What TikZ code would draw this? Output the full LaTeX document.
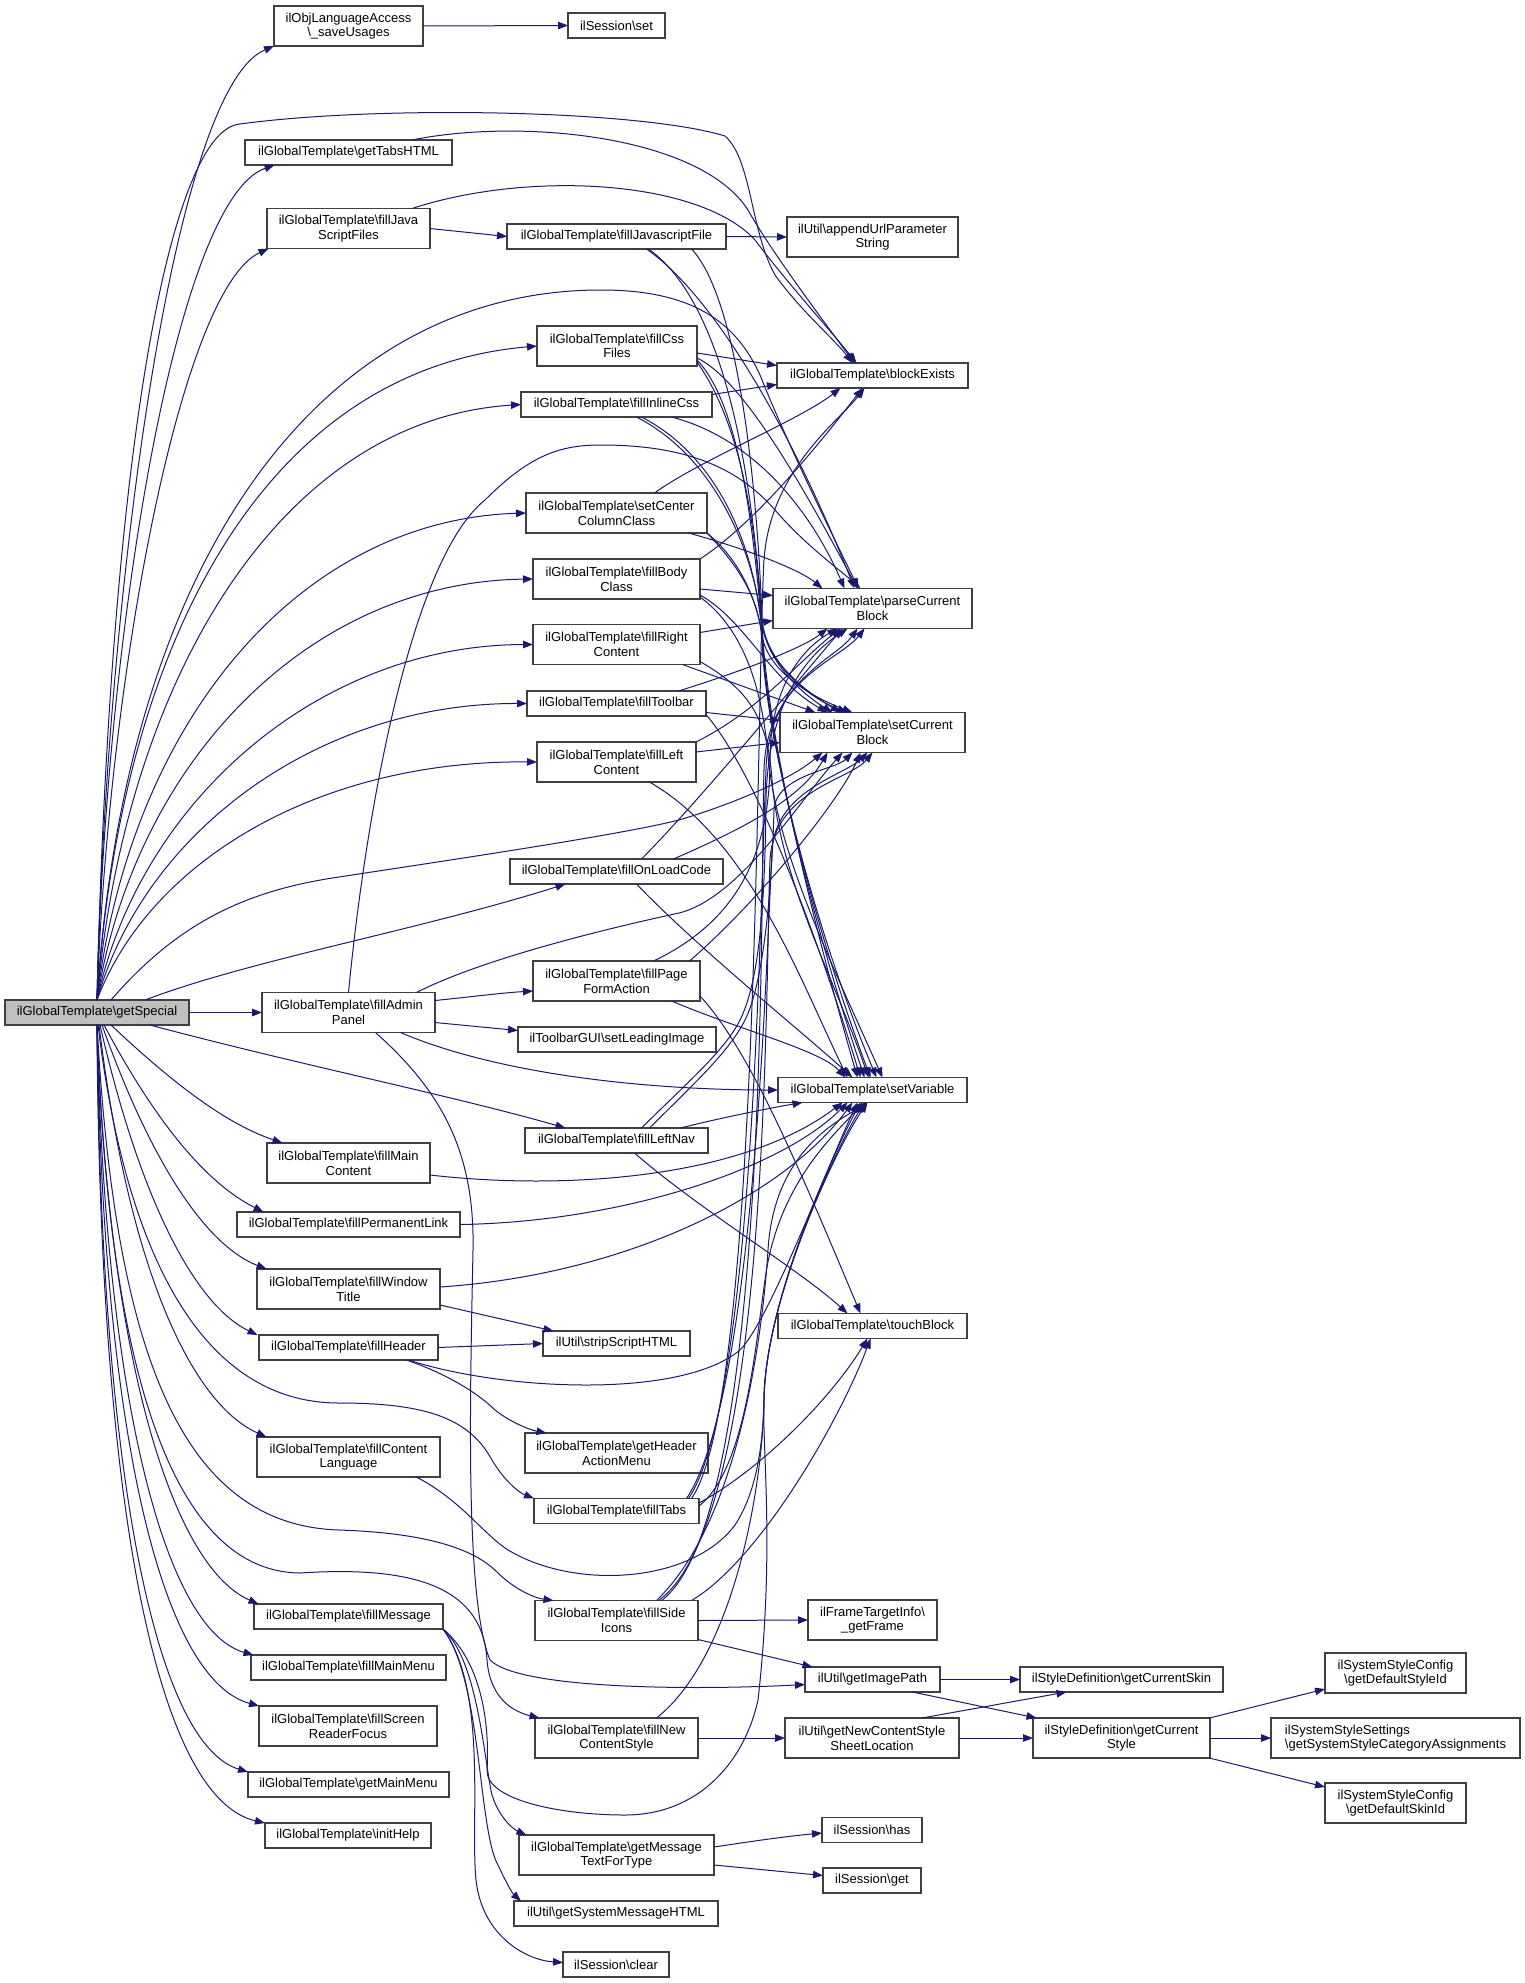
\documentclass[tikz,border=0pt]{standalone}
\usepackage{fontspec}
\setmainfont{Liberation Sans}
\usetikzlibrary{arrows.meta}
\definecolor{edgec}{HTML}{191970}
\definecolor{boxc}{HTML}{404040}
\definecolor{gsfill}{HTML}{BFBFBF}
\newcommand{\bsl}{\textbackslash}
\newcommand{\fsz}{\fontsize{13pt}{14.7pt}\selectfont}
\begin{document}
\begin{tikzpicture}[x=1pt,y=-1pt,
  box/.style={draw=boxc, line width=1.1pt, fill=white, inner sep=0pt, outer sep=0pt, align=center, font=\fsz},
  call/.style={draw=edgec, line width=1pt, -{Triangle[length=10pt,width=7.5pt]}}]
\fill[white] (0,0) rectangle (1525,1983);
\useasboundingbox (0,0) rectangle (1525,1983);
% nodes
\node[box,minimum width=184pt,minimum height=25pt,fill=gsfill] (GS) at (97,1012.5) {ilGlobalTemplate\bsl{}getSpecial};
\node[box,minimum width=149pt,minimum height=40pt] (SU) at (348.5,26) {ilObjLanguageAccess\\\bsl\_saveUsages};
\node[box,minimum width=97pt,minimum height=25pt] (SS) at (616.5,25.5) {ilSession\bsl{}set};
\node[box,minimum width=207pt,minimum height=25pt] (TH) at (348.5,152.5) {ilGlobalTemplate\bsl{}getTabsHTML};
\node[box,minimum width=163pt,minimum height=40pt] (JSF) at (348.5,228.5) {ilGlobalTemplate\bsl{}fillJava\\ScriptFiles};
\node[box,minimum width=219pt,minimum height=25pt] (FJF) at (616.5,236.5) {ilGlobalTemplate\bsl{}fillJavascriptFile};
\node[box,minimum width=171pt,minimum height=40pt] (AUP) at (872.5,237) {ilUtil\bsl{}appendUrlParameter\\String};
\node[box,minimum width=160pt,minimum height=40pt] (CSS) at (617,346) {ilGlobalTemplate\bsl{}fillCss\\Files};
\node[box,minimum width=191pt,minimum height=25pt] (BE) at (872.5,375.5) {ilGlobalTemplate\bsl{}blockExists};
\node[box,minimum width=191pt,minimum height=25pt] (ICSS) at (616.5,404.5) {ilGlobalTemplate\bsl{}fillInlineCss};
\node[box,minimum width=181pt,minimum height=40pt] (SCC) at (616.5,513) {ilGlobalTemplate\bsl{}setCenter\\ColumnClass};
\node[box,minimum width=167pt,minimum height=40pt] (FBC) at (616.5,579) {ilGlobalTemplate\bsl{}fillBody\\Class};
\node[box,minimum width=199pt,minimum height=40pt] (PCB) at (872.5,608.5) {ilGlobalTemplate\bsl{}parseCurrent\\Block};
\node[box,minimum width=167pt,minimum height=40pt] (FRC) at (616.5,644.5) {ilGlobalTemplate\bsl{}fillRight\\Content};
\node[box,minimum width=179pt,minimum height=25pt] (FTB) at (616.5,703.5) {ilGlobalTemplate\bsl{}fillToolbar};
\node[box,minimum width=185pt,minimum height=40pt] (SCB) at (872.5,732.5) {ilGlobalTemplate\bsl{}setCurrent\\Block};
\node[box,minimum width=159pt,minimum height=40pt] (FLC) at (616.5,762) {ilGlobalTemplate\bsl{}fillLeft\\Content};
\node[box,minimum width=213pt,minimum height=25pt] (FOL) at (616.5,871.5) {ilGlobalTemplate\bsl{}fillOnLoadCode};
\node[box,minimum width=167pt,minimum height=40pt] (FPF) at (616.5,981) {ilGlobalTemplate\bsl{}fillPage\\FormAction};
\node[box,minimum width=173pt,minimum height=40pt] (FAP) at (348.5,1012.5) {ilGlobalTemplate\bsl{}fillAdmin\\Panel};
\node[box,minimum width=198pt,minimum height=25pt] (SLI) at (617,1039.5) {ilToolbarGUI\bsl{}setLeadingImage};
\node[box,minimum width=189pt,minimum height=25pt] (SV) at (872.5,1090) {ilGlobalTemplate\bsl{}setVariable};
\node[box,minimum width=183pt,minimum height=25pt] (FLN) at (616.5,1140.5) {ilGlobalTemplate\bsl{}fillLeftNav};
\node[box,minimum width=163pt,minimum height=40pt] (FMC) at (348.5,1163) {ilGlobalTemplate\bsl{}fillMain\\Content};
\node[box,minimum width=223pt,minimum height=25pt] (FPL) at (348.5,1224.5) {ilGlobalTemplate\bsl{}fillPermanentLink};
\node[box,minimum width=183pt,minimum height=40pt] (FWT) at (348.5,1289) {ilGlobalTemplate\bsl{}fillWindow\\Title};
\node[box,minimum width=189pt,minimum height=25pt] (TB) at (872.5,1326) {ilGlobalTemplate\bsl{}touchBlock};
\node[box,minimum width=147pt,minimum height=25pt] (SSH) at (616.5,1343.5) {ilUtil\bsl{}stripScriptHTML};
\node[box,minimum width=179pt,minimum height=25pt] (FH) at (348.5,1347.5) {ilGlobalTemplate\bsl{}fillHeader};
\node[box,minimum width=183pt,minimum height=40pt] (GHA) at (616.5,1453) {ilGlobalTemplate\bsl{}getHeader\\ActionMenu};
\node[box,minimum width=183pt,minimum height=40pt] (FCL) at (348.5,1457) {ilGlobalTemplate\bsl{}fillContent\\Language};
\node[box,minimum width=165pt,minimum height=25pt] (FT) at (616.5,1511) {ilGlobalTemplate\bsl{}fillTabs};
\node[box,minimum width=163pt,minimum height=40pt] (FSI) at (616.5,1620.5) {ilGlobalTemplate\bsl{}fillSide\\Icons};
\node[box,minimum width=129pt,minimum height=40pt] (FTI) at (872.5,1620) {ilFrameTargetInfo\bsl\\\_getFrame};
\node[box,minimum width=189pt,minimum height=25pt] (FM) at (348.5,1616.5) {ilGlobalTemplate\bsl{}fillMessage};
\node[box,minimum width=195pt,minimum height=25pt] (FMM) at (348.5,1667.5) {ilGlobalTemplate\bsl{}fillMainMenu};
\node[box,minimum width=135pt,minimum height=25pt] (GIP) at (872.5,1679.5) {ilUtil\bsl{}getImagePath};
\node[box,minimum width=203pt,minimum height=25pt] (GCS) at (1121.5,1679.5) {ilStyleDefinition\bsl{}getCurrentSkin};
\node[box,minimum width=141pt,minimum height=40pt] (DSI) at (1395.5,1673) {ilSystemStyleConfig\\\bsl{}getDefaultStyleId};
\node[box,minimum width=178pt,minimum height=40pt] (FSR) at (348,1726) {ilGlobalTemplate\bsl{}fillScreen\\ReaderFocus};
\node[box,minimum width=163pt,minimum height=40pt] (FNC) at (616.5,1738) {ilGlobalTemplate\bsl{}fillNew\\ContentStyle};
\node[box,minimum width=174pt,minimum height=40pt] (GNC) at (872,1738) {ilUtil\bsl{}getNewContentStyle\\SheetLocation};
\node[box,minimum width=177pt,minimum height=40pt] (GCST) at (1121.5,1738) {ilStyleDefinition\bsl{}getCurrent\\Style};
\node[box,minimum width=249pt,minimum height=40pt,align=left] (SSC) at (1395.5,1738) {ilSystemStyleSettings\\\bsl{}getSystemStyleCategoryAssignments};
\node[box,minimum width=201pt,minimum height=25pt] (GMM) at (348.5,1784.5) {ilGlobalTemplate\bsl{}getMainMenu};
\node[box,minimum width=141pt,minimum height=40pt] (DSK) at (1395.5,1803) {ilSystemStyleConfig\\\bsl{}getDefaultSkinId};
\node[box,minimum width=100pt,minimum height=25pt] (SH) at (872,1830) {ilSession\bsl{}has};
\node[box,minimum width=166pt,minimum height=25pt] (IH) at (348,1835.5) {ilGlobalTemplate\bsl{}initHelp};
\node[box,minimum width=195pt,minimum height=40pt] (GMT) at (616.5,1855) {ilGlobalTemplate\bsl{}getMessage\\TextForType};
\node[box,minimum width=98pt,minimum height=25pt] (SG) at (872,1880.5) {ilSession\bsl{}get};
\node[box,minimum width=204pt,minimum height=25pt] (GSM) at (616,1913.5) {ilUtil\bsl{}getSystemMessageHTML};
\node[box,minimum width=106pt,minimum height=25pt] (SC) at (616,1964.5) {ilSession\bsl{}clear};
% getSpecial fan upward
\draw[call] (GS.north) .. controls (105,620) and (170,90) .. (SU.south west);
\draw[call] (GS.north) .. controls (105,640) and (175,200) .. ([xshift=-74pt]TH.south);
\draw[call] (GS.north) .. controls (108,680) and (180,290) .. ([xshift=-80pt]JSF.south);
\draw[call] (GS.north) .. controls (110,450) and (170,130) .. (240,124) .. controls (380,105) and (640,110) .. (725,136) .. controls (752,160) and (750,230) .. (775,275) .. controls (800,310) and (835,340) .. ([xshift=-20pt]BE.north);
\draw[call] (GS.north) .. controls (125,560) and (320,290) .. (601,290) .. controls (690,290) and (735,320) .. (760,375) .. controls (790,450) and (835,540) .. ([xshift=-14pt]PCB.north);
\draw[call] (GS.north) .. controls (120,650) and (260,370) .. (CSS.west);
\draw[call] (GS.north) .. controls (125,680) and (280,420) .. (ICSS.west);
\draw[call] (GS.north) .. controls (130,720) and (300,520) .. (SCC.west);
\draw[call] (GS.north) .. controls (135,760) and (310,582) .. (FBC.west);
\draw[call] (GS.north) .. controls (140,800) and (320,645) .. (FRC.west);
\draw[call] (GS.north) .. controls (145,830) and (320,703) .. (FTB.west);
\draw[call] (GS.north) .. controls (150,860) and (320,760) .. (FLC.west);
\draw[call] ([xshift=14pt]GS.north) .. controls (180,920) and (250,890) .. (339,877) .. controls (450,860) and (620,835) .. (679,820) .. controls (730,805) and (790,780) .. ([xshift=-50pt]SCB.south);
\draw[call] ([xshift=48pt]GS.north) .. controls (250,960) and (420,930) .. ([xshift=-51pt]FOL.south);
\draw[call] (GS.east) -- (FAP.west);
% getSpecial fan downward
\draw[call] ([xshift=53pt]GS.south) .. controls (300,1065) and (450,1095) .. ([xshift=-51pt]FLN.north);
\draw[call] ([xshift=14pt]GS.south) .. controls (180,1090) and (230,1125) .. ([xshift=-66pt]FMC.north);
\draw[call] ([xshift=7pt]GS.south) .. controls (160,1130) and (210,1185) .. ([xshift=-85pt]FPL.north);
\draw[call] ([xshift=5pt]GS.south) .. controls (150,1160) and (205,1245) .. ([xshift=-82pt]FWT.north);
\draw[call] ([xshift=3pt]GS.south) .. controls (140,1200) and (195,1305) .. ([xshift=-91pt]FH.north);
\draw[call] ([xshift=2pt]GS.south) .. controls (130,1280) and (195,1405) .. ([xshift=-82pt]FCL.north);
\draw[call] ([xshift=1pt]GS.south) .. controls (125,1250) and (200,1403) .. (339,1403) .. controls (430,1403) and (470,1420) .. (492,1460) .. controls (505,1482) and (520,1493) .. (FT.north west);
\draw[call] (GS.south) .. controls (115,1350) and (180,1525) .. (339,1530) .. controls (430,1533) and (475,1550) .. (497,1572) .. controls (515,1590) and (535,1598) .. ([xshift=-63pt]FSI.north);
\draw[call] (GS.south) .. controls (110,1420) and (190,1572) .. (300,1573) .. controls (420,1565) and (483,1590) .. (487,1660) .. controls (490,1700) and (515,1712) .. ([xshift=-77pt]FNC.north);
\draw[call] (GS.south) .. controls (108,1350) and (170,1565) .. ([xshift=-90pt]FM.north);
\draw[call] (GS.south) .. controls (105,1400) and (165,1630) .. ([xshift=-95pt]FMM.north);
\draw[call] (GS.south) .. controls (103,1450) and (165,1680) .. (FSR.north west);
\draw[call] (GS.south) .. controls (101,1500) and (160,1745) .. (GMM.north west);
\draw[call] (GS.south) .. controls (100,1550) and (165,1800) .. (IH.north west);
% top part
\draw[call] (SU.east) -- (SS.west);
\draw[call] ([xshift=63.5pt]TH.north) .. controls (520,118) and (700,135) .. (748,210) .. controls (770,250) and (830,330) .. ([xshift=-18pt]BE.north);
\draw[call] ([xshift=63.5pt]JSF.north) .. controls (530,170) and (700,180) .. (755,240) .. controls (785,280) and (830,330) .. ([xshift=-16pt]BE.north);
\draw[call] (JSF.east) -- (FJF.west);
\draw[call] (FJF.east) -- (AUP.west);
\draw[call] ([xshift=30pt]FJF.south) .. controls (720,300) and (800,450) .. ([xshift=-18pt]PCB.north);
\draw[call] ([xshift=32pt]FJF.south) .. controls (735,310) and (755,520) .. (762,620) .. controls (768,670) and (815,700) .. ([xshift=-25pt]SCB.north);
\draw[call] ([xshift=75pt]FJF.south) .. controls (740,300) and (758,500) .. (762,620) .. controls (765,730) and (815,930) .. ([xshift=-15pt]SV.north);
% fillCssFiles
\draw[call] ([yshift=-7pt]CSS.east) -- ([yshift=10pt]BE.west);
\draw[call] ([yshift=-12pt]CSS.east) .. controls (745,380) and (810,500) .. ([xshift=-15pt]PCB.north);
\draw[call] ([yshift=-14pt]CSS.east) .. controls (745,410) and (755,560) .. (762,625) .. controls (770,670) and (820,700) .. ([xshift=-32pt]SCB.north);
\draw[call] ([yshift=-16pt]CSS.east) .. controls (745,430) and (757,540) .. (762,630) .. controls (765,735) and (815,930) .. ([xshift=-8pt]SV.north);
% fillInlineCss
\draw[call] ([yshift=10pt]ICSS.east) -- ([yshift=-9pt]BE.west);
\draw[call] ([xshift=55pt]ICSS.south) .. controls (760,440) and (815,520) .. ([xshift=-28pt]PCB.north);
\draw[call] ([xshift=20pt]ICSS.south) .. controls (720,460) and (755,560) .. (762,625) .. controls (770,670) and (812,700) .. ([xshift=-40pt]SCB.north);
\draw[call] ([xshift=25pt]ICSS.south) .. controls (725,460) and (757,560) .. (762,635) .. controls (765,735) and (815,930) .. ([xshift=-2pt]SV.north);
% setCenterColumnClass
\draw[call] ([xshift=38pt]SCC.north) .. controls (700,460) and (800,420) .. ([xshift=-32pt]BE.south);
\draw[call] ([xshift=72pt]SCC.south) .. controls (750,550) and (800,570) .. ([xshift=-50pt]PCB.north);
\draw[call] (SCC.south east) .. controls (740,560) and (757,600) .. (762,635) .. controls (768,675) and (820,700) .. ([xshift=-20pt]SCB.north);
\draw[call] (SCC.south east) .. controls (742,570) and (759,600) .. (762,640) .. controls (765,738) and (815,930) .. ([xshift=4pt]SV.north);
% fillBodyClass
\draw[call] (FBC.north east) .. controls (760,520) and (830,430) .. ([xshift=-10pt]BE.south);
\draw[call] ([yshift=-10pt]FBC.east) -- ([yshift=13pt]PCB.west);
\draw[call] ([yshift=-16pt]FBC.east) .. controls (745,620) and (770,680) .. ([xshift=-45pt]SCB.north);
\draw[call] ([yshift=-18pt]FBC.east) .. controls (745,630) and (762,690) .. (768,755) .. controls (776,850) and (830,960) .. ([xshift=10pt]SV.north);
% fillRightContent
\draw[call] ([yshift=12pt]FRC.east) -- ([yshift=-12pt]PCB.west);
\draw[call] ([xshift=66pt]FRC.south) -- ([xshift=-57pt]SCB.north);
\draw[call] ([yshift=-17pt]FRC.east) .. controls (750,690) and (768,720) .. (772,780) .. controls (780,880) and (835,980) .. ([xshift=-4pt]SV.north);
% fillToolbar
\draw[call] ([xshift=62pt]FTB.north) .. controls (730,675) and (800,650) .. ([xshift=-45pt]PCB.south);
\draw[call] ([yshift=-9pt]FTB.east) -- ([yshift=12pt]SCB.west);
\draw[call] ([yshift=-11pt]FTB.east) .. controls (745,760) and (800,880) .. ([xshift=-12pt]SV.north);
% fillLeftContent
\draw[call] (FLC.north east) .. controls (760,710) and (800,660) .. ([xshift=-32pt]PCB.south);
\draw[call] ([yshift=10pt]FLC.east) -- ([yshift=-10pt]SCB.west);
\draw[call] ([xshift=33pt]FLC.south) .. controls (750,840) and (800,980) .. ([xshift=-25pt]SV.north);
% fillOnLoadCode
\draw[call] ([xshift=25pt]FOL.north) .. controls (700,800) and (790,690) .. ([xshift=-30pt]PCB.south);
\draw[call] ([xshift=57pt]FOL.north) .. controls (740,830) and (800,800) .. ([xshift=-45pt]SCB.south);
\draw[call] ([xshift=20pt]FOL.south) .. controls (700,950) and (800,1030) .. ([xshift=-20pt]SV.north);
% fillPageFormAction
\draw[call] ([xshift=37pt]FPF.north) .. controls (740,920) and (770,850) .. (770,760) .. controls (770,690) and (800,650) .. ([xshift=-35pt]PCB.south);
\draw[call] ([xshift=73pt]FPF.north) .. controls (760,900) and (840,800) .. ([xshift=-12pt]SCB.south);
\draw[call] ([xshift=55pt]FPF.south) .. controls (740,1030) and (820,1050) .. ([xshift=-27pt]SV.north);
\draw[call] ([yshift=-15pt]FPF.east) .. controls (750,1050) and (800,1170) .. ([xshift=-12pt]TB.north);
% fillAdminPanel
\draw[call] ([yshift=12pt]FAP.east) .. controls (470,997) and (500,993) .. ([yshift=-10pt]FPF.west);
\draw[call] ([yshift=-10pt]FAP.east) -- ([yshift=9pt]SLI.west);
\draw[call] ([xshift=52pt]FAP.south) .. controls (500,1075) and (650,1090) .. (SV.west);
\draw[call] ([xshift=27pt]FAP.south) .. controls (440,1090) and (475,1150) .. (473,1250) .. controls (470,1400) and (465,1600) .. (490,1660) .. controls (520,1690) and (700,1690) .. ([yshift=-5pt]GIP.west);
\draw[call] (FAP.north) .. controls (365,820) and (410,560) .. (485,500) .. controls (530,455) and (560,445) .. (601,445) .. controls (690,445) and (740,470) .. (775,510) .. controls (805,545) and (840,570) .. ([xshift=-12pt]PCB.north);
\draw[call] ([xshift=68pt]FAP.north) .. controls (480,960) and (600,930) .. (679,913) .. controls (740,898) and (800,800) .. ([xshift=-30pt]SCB.south);
% fillLeftNav
\draw[call] ([xshift=64pt]FLN.north) .. controls (720,1118) and (770,1108) .. ([xshift=-70pt]SV.south);
\draw[call] ([xshift=18pt]FLN.south) .. controls (700,1210) and (800,1270) .. ([xshift=-25pt]TB.north);
\draw[call] ([xshift=25pt]FLN.north) .. controls (690,1080) and (725,1050) .. (740,1020) .. controls (760,980) and (765,900) .. (766,800) .. controls (768,710) and (800,660) .. ([xshift=-25pt]PCB.south);
\draw[call] ([xshift=33pt]FLN.north) .. controls (698,1080) and (730,1050) .. (745,1020) .. controls (765,980) and (772,880) .. (774,810) .. controls (776,775) and (835,770) .. ([xshift=-20pt]SCB.south);
% fillTabs
\draw[call] ([yshift=8pt]FT.east) .. controls (760,1470) and (830,1400) .. ([xshift=-5pt]TB.south);
\draw[call] ([yshift=5pt]FT.east) .. controls (745,1470) and (755,1350) .. (765,1280) .. controls (778,1180) and (840,1130) .. ([xshift=-10pt]SV.south);
\draw[call] ([xshift=75pt]FT.north) .. controls (760,1400) and (756,700) .. (764,560) .. controls (770,470) and (840,420) .. ([xshift=-8pt]BE.south);
\draw[call] ([xshift=72pt]FT.north) .. controls (755,1400) and (760,900) .. (766,770) .. controls (768,680) and (835,660) .. ([xshift=-15pt]PCB.south);
\draw[call] ([xshift=70pt]FT.north) .. controls (752,1400) and (765,1000) .. (772,850) .. controls (776,790) and (845,775) .. ([xshift=-5pt]SCB.south);
% fillSideIcons
\draw[call] (FSI.east) -- (FTI.west);
\draw[call] ([yshift=-19pt]FSI.east) -- ([xshift=-60pt]GIP.north);
\draw[call] ([xshift=75pt]FSI.north) .. controls (760,1560) and (840,1420) .. ([xshift=-2pt]TB.south);
\draw[call] ([xshift=40pt]FSI.north) .. controls (740,1520) and (763,1330) .. (768,1250) .. controls (774,1150) and (840,1120) .. ([xshift=-5pt]SV.south);
\draw[call] ([xshift=42pt]FSI.north) .. controls (770,1520) and (765,1000) .. (770,860) .. controls (774,790) and (850,780) .. (SCB.south);
\draw[call] ([xshift=45pt]FSI.north) .. controls (770,1520) and (760,900) .. (764,770) .. controls (766,680) and (840,660) .. ([xshift=-8pt]PCB.south);
% left column callers of setVariable etc.
\draw[call] ([yshift=-12pt]FMC.east) .. controls (560,1190) and (740,1180) .. ([xshift=-30pt]SV.south);
\draw[call] (FPL.east) .. controls (620,1222) and (780,1170) .. ([xshift=-25pt]SV.south);
\draw[call] ([yshift=2pt]FWT.east) .. controls (620,1275) and (780,1200) .. ([xshift=-20pt]SV.south);
\draw[call] ([yshift=-16pt]FWT.east) -- ([xshift=-63pt]SSH.north);
\draw[call] (FH.east) -- (SSH.west);
\draw[call] ([xshift=58pt]FH.south) .. controls (450,1375) and (480,1395) .. (495,1410) .. controls (510,1422) and (530,1430) .. ([xshift=-70pt]GHA.north);
\draw[call] ([xshift=60pt]FH.south) .. controls (500,1390) and (680,1400) .. (740,1350) .. controls (770,1320) and (830,1160) .. ([xshift=-15pt]SV.south);
\draw[call] ([xshift=68pt]FCL.south) .. controls (460,1500) and (480,1530) .. (505,1548) .. controls (570,1590) and (690,1585) .. (735,1525) .. controls (758,1490) and (763,1440) .. (764,1400) .. controls (765,1300) and (835,1150) .. ([xshift=-12pt]SV.south);
\draw[call] ([xshift=40pt]FNC.north) .. controls (730,1660) and (762,1500) .. (764,1400) .. controls (765,1300) and (835,1150) .. ([xshift=-8pt]SV.south);
% fillMessage
\draw[call] (FM.south east) .. controls (480,1660) and (490,1720) .. (487,1770) .. controls (486,1800) and (560,1815) .. (625,1815) .. controls (700,1815) and (745,1760) .. (758,1700) .. controls (775,1550) and (762,1450) .. (764,1400) .. controls (765,1300) and (835,1150) .. ([xshift=-5pt]SV.south);
\draw[call] (FM.south east) .. controls (478,1660) and (484,1760) .. (492,1795) .. controls (500,1820) and (515,1830) .. ([xshift=-90pt]GMT.north);
\draw[call] (FM.south east) .. controls (482,1680) and (478,1830) .. (498,1865) .. controls (506,1882) and (512,1893) .. ([xshift=-95pt]GSM.north);
\draw[call] (FM.south east) .. controls (488,1690) and (470,1820) .. (476,1880) .. controls (482,1935) and (525,1960) .. ([yshift=2pt]SC.west);
\draw[call] ([yshift=8pt]GMT.east) .. controls (760,1840) and (790,1836) .. ([yshift=-3pt]SH.west);
\draw[call] ([yshift=-10pt]GMT.east) -- ([yshift=5pt]SG.west);
% style chain
\draw[call] (FNC.east) -- (GNC.west);
\draw[call] ([xshift=50pt]GNC.north) -- ([xshift=-55pt]GCS.south);
\draw[call] (GNC.east) -- (GCST.west);
\draw[call] (GIP.east) -- (GCS.west);
\draw[call] ([xshift=40pt]GIP.south) -- ([xshift=-85pt]GCST.north);
\draw[call] ([xshift=88pt]GCST.north) -- ([yshift=-16pt]DSI.west);
\draw[call] (GCST.east) -- (SSC.west);
\draw[call] ([xshift=88pt]GCST.south) -- ([yshift=16pt]DSK.west);
\end{tikzpicture}
\end{document}
